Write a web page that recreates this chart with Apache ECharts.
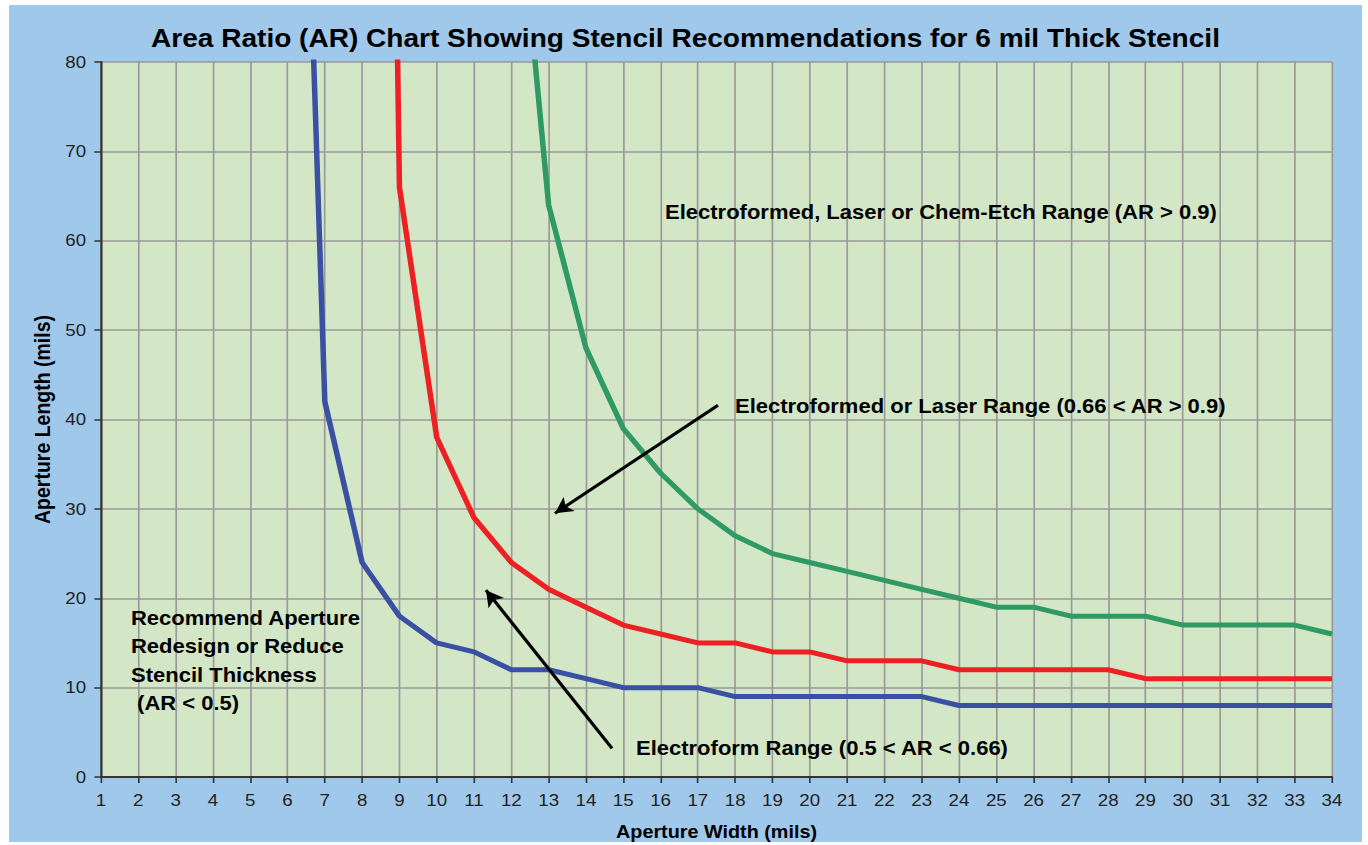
<!DOCTYPE html>
<html><head><meta charset="utf-8">
<script src="https://cdn.jsdelivr.net/npm/echarts@6/dist/echarts.min.js"></script>
<style>html,body{margin:0;padding:0;background:#fff;overflow:hidden;}
#c{position:absolute;left:9px;top:5px;width:1230px;height:837px;transform:scaleX(1.1);transform-origin:0 0;}</style>
</head><body><div id="c"></div>
<script>
const widthsBlue = [6,7,8,9,10,11,12,13,14,15,16,17,18,19,20,21,22,23,24,25,26,27,28,29,30,31,32,33,34];
const lengthsBlue = [170,42,24,18,15,14,12,12,11,10,10,10,9,9,9,9,9,9,8,8,8,8,8,8,8,8,8,8,8];
const widthsRed = [8,9,10,11,12,13,14,15,16,17,18,19,20,21,22,23,24,25,26,27,28,29,30,31,32,33,34];
const lengthsRed = [350,66,38,29,24,21,19,17,16,15,15,14,14,13,13,13,12,12,12,12,12,11,11,11,11,11,11];
const widthsGreen = [12,13,14,15,16,17,18,19,20,21,22,23,24,25,26,27,28,29,30,31,32,33,34];
const lengthsGreen = [108,64,48,39,34,30,27,25,24,23,22,21,20,19,19,18,18,18,17,17,17,17,16];
const xTicks = {min:1, max:34, interval:1};
const yTicks = {min:0, max:80, interval:10};
const arrows = [
  [[17.54,41.6],[13.17,29.5]],
  [[14.7,3.2],[11.32,20.9]]
];
const labels = [
  {text:'Electroformed, Laser or Chem-Etch Range (AR > 0.9)', x:596.4, y:195},
  {text:'Electroformed or Laser Range (0.66 < AR > 0.9)', x:660, y:389},
  {text:'Electroform Range (0.5 < AR < 0.66)', x:570, y:731},
  {text:'Recommend Aperture\nRedesign or Reduce\nStencil Thickness\n (AR < 0.5)', x:110.9, y:598.5, lh:28.5}
];
const zip = (a,b)=>a.map((v,i)=>[v,b[i]]);
const chart = echarts.init(document.getElementById('c'), null, {renderer:'svg'});
const FONT = '"Liberation Sans", Arial, Helvetica, sans-serif';
chart.setOption({
  backgroundColor:'#9fc8ea',
  animation:false,
  title:{text:'Area Ratio (AR) Chart Showing Stencil Recommendations for 6 mil Thick Stencil',
    left:'center', top:15, textStyle:{fontFamily:FONT, fontWeight:'bold', fontSize:25.5, color:'#000'}},
  grid:{left:83.64, right:27.27, top:57, bottom:65, outerBoundsMode:'none', containLabel:false,
    show:true, backgroundColor:'#d3e6c6', borderWidth:0},
  xAxis:{type:'value', min:xTicks.min, max:xTicks.max, interval:xTicks.interval,
    name:'Aperture Width (mils)', nameLocation:'middle', nameGap:45.5,
    nameTextStyle:{fontFamily:FONT, fontWeight:'bold', fontSize:18, color:'#000'},
    axisLine:{show:true, onZero:false, lineStyle:{color:'#333', width:2}},
    axisTick:{show:true, length:6, lineStyle:{color:'#333', width:1.5}},
    axisLabel:{margin:15, fontFamily:FONT, fontSize:17, color:'#222'},
    splitLine:{show:true, lineStyle:{color:'#999', width:1.5}}},
  yAxis:{type:'value', min:yTicks.min, max:yTicks.max, interval:yTicks.interval,
    name:'Aperture Length (mils)', nameLocation:'middle', nameGap:40, nameRotate:90,
    nameTextStyle:{fontFamily:FONT, fontWeight:'bold', fontSize:19.5, color:'#000'},
    axisLine:{show:true, lineStyle:{color:'#333', width:2}},
    axisTick:{show:true, length:6, lineStyle:{color:'#333', width:1.5}},
    axisLabel:{margin:13.5, fontFamily:FONT, fontSize:17, color:'#222'},
    splitLine:{show:true, lineStyle:{color:'#999', width:1.5}}},
  series:[
    {type:'line', data:zip(widthsBlue,lengthsBlue), symbol:'none', clip:true,
      lineStyle:{color:'#3a51a3', width:5}, z:3},
    {type:'line', data:zip(widthsRed,lengthsRed), symbol:'none', clip:true,
      lineStyle:{color:'#ed2024', width:5}, z:3},
    {type:'line', data:zip(widthsGreen,lengthsGreen), symbol:'none', clip:true,
      lineStyle:{color:'#2f9a63', width:5}, z:3,
      markLine:{silent:true, symbol:['none','arrow'], symbolSize:[13,16], animation:false,
        label:{show:false}, lineStyle:{color:'#000', width:3, type:'solid'},
        data: arrows.map(a=>[{coord:a[0]},{coord:a[1]}])}}
  ],
  graphic: labels.map(l=>({type:'text', left:l.x, top:l.y, z:100,
    style:{text:l.text, font:'bold 20px '+FONT, fill:'#000', lineHeight:l.lh||24}}))
});
</script></body></html>
